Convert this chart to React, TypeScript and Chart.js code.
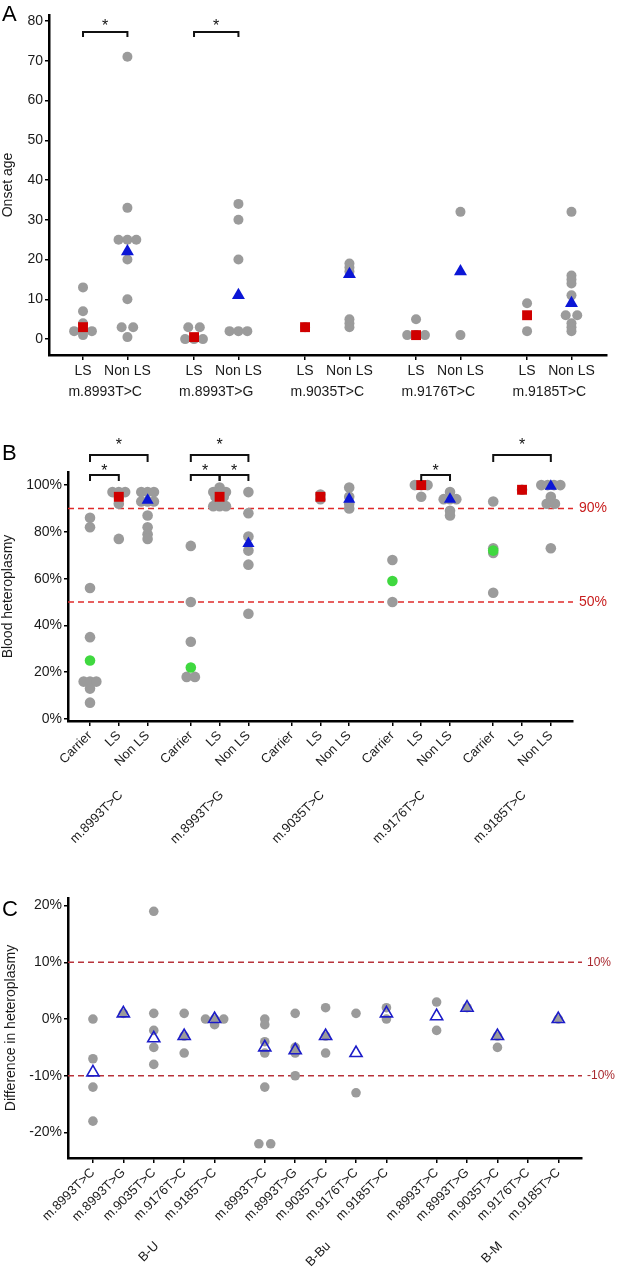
import React, { useEffect, useRef } from 'react';
import { Chart, registerables } from 'chart.js';
Chart.register(...registerables);

const FONT = '"Liberation Sans", Arial, Helvetica, sans-serif';

// ---------- DATA ----------
const mutations = ['m.8993T>C', 'm.8993T>G', 'm.9035T>C', 'm.9176T>C', 'm.9185T>C'];

// Panel A: onset age
const onsetGroups = ['LS', 'Non LS'];
const onsetLS = [[13, 7, 4, 2, 2, 2, 1], [3, 3, 0, 0, 0], [3], [5, 1, 1, 1], [9, 2]];
const onsetNonLS = [[71, 33, 25, 25, 25, 20, 10, 3, 3, 0.5], [34, 30, 20, 2, 2, 2], [19, 18, 17, 5, 4, 3], [32, 1], [32, 16, 15, 14, 11, 6, 6, 4, 3, 2]];
const onsetLSMean = [3, 0.5, 3, 1, 6];
const onsetNonLSMean = [22, 11, 16.3, 17, 9];
const onsetTicks = [0, 10, 20, 30, 40, 50, 60, 70, 80];
const onsetSig = [{ group: 0, a: 0, b: 1, level: 0 }, { group: 1, a: 0, b: 1, level: 0 }];

// Panel B: blood heteroplasmy
const bloodGroups = ['Carrier', 'LS', 'Non LS'];
const bloodCarrier = [[86, 82, 56, 35, 16, 16, 16, 13, 7], [74, 50, 33, 18, 18], [], [68, 50], [93, 73, 71, 54]];
const bloodLS = [[97, 97, 97, 95, 92, 77], [99, 97, 97, 97, 95, 95, 91, 91, 91], [96, 94], [100, 100, 100, 95], [98]];
const bloodNonLS = [[97, 97, 97, 93, 93, 93, 87, 82, 79, 77], [97, 88, 78, 72, 66, 45], [99, 95, 92, 90], [97, 94, 94, 94, 89, 87], [100, 100, 100, 100, 95, 92, 92, 73]];
const bloodCarrierMean = [25, 22, null, 59, 72];
const bloodLSMean = [95, 95, 95, 100, 98];
const bloodNonLSMean = [93.5, 75, 94, 94, 99.5];
const bloodTicks = [0, 20, 40, 60, 80, 100];
const bloodRefLines = [90, 50];
const bloodSig = [
  { group: 0, a: 0, b: 1, level: 0 }, { group: 0, a: 0, b: 2, level: 1 },
  { group: 1, a: 0, b: 1, level: 0 }, { group: 1, a: 1, b: 2, level: 0 }, { group: 1, a: 0, b: 2, level: 1 },
  { group: 3, a: 1, b: 2, level: 0 }, { group: 4, a: 0, b: 2, level: 1 },
];

// Panel C: difference in heteroplasmy
const tissueGroups = ['B-U', 'B-Bu', 'B-M'];
const diffValues = [
  [[0, -7, -12, -18], [1], [19, 1, -2, -5, -8], [1, -3, -6], [0, 0, 0, -1]],
  [[0, -1, -4, -6, -12, -22, -22], [1, -5, -6, -10], [2, -3, -6], [1, -13], [2, 0]],
  [[3, -2], [2], [-3, -5], [], [0]],
];
const diffMeans = [
  [-9.4, 1, -3.4, -3, 0],
  [-5, -5.5, -3, -6, 1],
  [0.5, 2, -3, null, 0],
];
const diffTicks = [-20, -10, 0, 10, 20];
const diffRefLines = [10, -10];

// ---------- LAYOUT HELPERS ----------
const posA = (g: number, k: number) => g * 2.5 + k;
const posB = (g: number, k: number) => g * 3.5 + k;
const posC = (g: number, m: number) => g * 5.65 + m;

function swarm(values: number[], center: number, step: number) {
  const counts = new Map<number, number>();
  values.forEach((v) => counts.set(v, (counts.get(v) || 0) + 1));
  const seen = new Map<number, number>();
  return values.map((v) => {
    const n = counts.get(v)!;
    const i = seen.get(v) || 0;
    seen.set(v, i + 1);
    const s = n === 2 ? step * 1.3 : step;
    return { x: center + (i - (n - 1) / 2) * s, y: v };
  });
}

const GREY = '#9b9b9b';
const RED = '#d00000';
const BLUE = '#0b16d6';
const GREEN = '#3fd83f';
const TEXT = '#1a1a1a';

function xAxis(ticks: number[], labels: string[], min: number, max: number, height: number, size: number, rot: number, pad: number) {
  return {
    type: 'linear', min, max,
    border: { display: true, color: '#000', width: 2.5 },
    grid: { display: true, drawOnChartArea: false, drawTicks: true, tickLength: 5, color: '#000', lineWidth: 1.5 },
    afterBuildTicks: (s: any) => { s.ticks = ticks.map((v) => ({ value: v })); },
    afterFit: (s: any) => { s.height = height; },
    ticks: {
      autoSkip: false, minRotation: rot, maxRotation: rot, padding: pad, color: TEXT,
      font: { family: FONT, size },
      callback: (_v: any, i: number) => labels[i],
    },
  };
}

function yAxis(ticks: number[], min: number, max: number, width: number, title: string, fmt: (v: number) => string, titlePad: number) {
  return {
    type: 'linear', min, max,
    border: { display: true, color: '#000', width: 2.5 },
    grid: { display: true, drawOnChartArea: false, drawTicks: true, tickLength: 4, color: '#000', lineWidth: 1.5 },
    afterBuildTicks: (s: any) => { s.ticks = ticks.map((v) => ({ value: v })); },
    afterFit: (s: any) => { s.width = width; },
    ticks: { padding: 2, color: TEXT, font: { family: FONT, size: 14 }, callback: (v: any) => fmt(Number(v)) },
    title: { display: true, text: title, color: TEXT, font: { family: FONT, size: 14 }, padding: { top: titlePad, bottom: 0 } },
  };
}

function drawBrackets(ctx: any, x: any, top: number, list: any[], pos: (g: number, k: number) => number, levels: { line: number; drop: number; star: number }[]) {
  ctx.save();
  ctx.strokeStyle = '#111';
  ctx.lineWidth = 2;
  ctx.fillStyle = '#111';
  ctx.font = `16px ${FONT}`;
  ctx.textAlign = 'center';
  ctx.textBaseline = 'alphabetic';
  list.forEach((b) => {
    const L = levels[b.level];
    const x1 = x.getPixelForValue(pos(b.group, b.a));
    const x2 = x.getPixelForValue(pos(b.group, b.b));
    const yl = top + L.line;
    ctx.beginPath();
    ctx.moveTo(x1, yl + L.drop);
    ctx.lineTo(x1, yl);
    ctx.lineTo(x2, yl);
    ctx.lineTo(x2, yl + L.drop);
    ctx.stroke();
    ctx.fillText('*', (x1 + x2) / 2, yl + L.star);
  });
  ctx.restore();
}

function drawRefLines(ctx: any, area: any, y: any, values: number[], color: string, width: number) {
  ctx.save();
  ctx.strokeStyle = color;
  ctx.lineWidth = width;
  ctx.setLineDash([6, 4]);
  values.forEach((v) => {
    const py = y.getPixelForValue(v);
    ctx.beginPath();
    ctx.moveTo(area.left, py);
    ctx.lineTo(area.right, py);
    ctx.stroke();
  });
  ctx.restore();
}

function drawRefLabels(ctx: any, x0: number, y: any, values: number[], color: string, size: number) {
  ctx.save();
  ctx.fillStyle = color;
  ctx.font = `${size}px ${FONT}`;
  ctx.textAlign = 'left';
  ctx.textBaseline = 'middle';
  values.forEach((v) => ctx.fillText(`${v}%`, x0, y.getPixelForValue(v)));
  ctx.restore();
}

function drawLetter(ctx: any, letter: string, x: number, y: number) {
  ctx.save();
  ctx.fillStyle = '#000';
  ctx.font = `22px ${FONT}`;
  ctx.textAlign = 'left';
  ctx.textBaseline = 'alphabetic';
  ctx.fillText(letter, x, y);
  ctx.restore();
}

function drawRotated(ctx: any, text: string, x: number, y: number, size: number) {
  ctx.save();
  ctx.translate(x, y);
  ctx.rotate(-Math.PI / 4);
  ctx.fillStyle = TEXT;
  ctx.font = `${size}px ${FONT}`;
  ctx.textAlign = 'right';
  ctx.textBaseline = 'middle';
  ctx.fillText(text, 0, 0);
  ctx.restore();
}

const baseOptions = {
  responsive: false,
  animation: false,
  devicePixelRatio: 1,
  events: [],
  plugins: { legend: { display: false }, tooltip: { enabled: false } },
};

// ---------- PANEL CONFIGS ----------
function configA() {
  const grey: any[] = [];
  mutations.forEach((_m, g) => {
    grey.push(...swarm(onsetLS[g], posA(g, 0), 0.2));
    grey.push(...swarm(onsetNonLS[g], posA(g, 1), 0.2));
  });
  const lsMean = onsetLSMean.map((v, g) => ({ x: posA(g, 0), y: v }));
  const nonMean = onsetNonLSMean.map((v, g) => ({ x: posA(g, 1), y: v }));
  const tickPos: number[] = [];
  const tickLab: string[] = [];
  mutations.forEach((_m, g) => onsetGroups.forEach((lab, k) => { tickPos.push(posA(g, k)); tickLab.push(lab); }));
  const plugin = {
    id: 'annotA',
    afterDraw(chart: any) {
      const { ctx, chartArea, scales } = chart;
      drawLetter(ctx, 'A', 2, 21);
      ctx.save();
      ctx.fillStyle = TEXT;
      ctx.font = `14px ${FONT}`;
      ctx.textAlign = 'center';
      ctx.textBaseline = 'middle';
      mutations.forEach((m, g) => {
        const cx = (scales.x.getPixelForValue(posA(g, 0)) + scales.x.getPixelForValue(posA(g, 1))) / 2;
        ctx.fillText(m, cx, chartArea.bottom + 37);
      });
      ctx.restore();
      drawBrackets(ctx, scales.x, chartArea.top, onsetSig, posA, [{ line: 17, drop: 5, star: -1 }]);
    },
  };
  return {
    type: 'scatter',
    data: {
      datasets: [
        { data: lsMean, pointStyle: 'rect', pointRadius: 7, backgroundColor: RED, borderWidth: 0, order: 0 },
        { data: nonMean, pointStyle: 'triangle', pointRadius: 7.5, backgroundColor: BLUE, borderWidth: 0, order: 0 },
        { data: grey, pointStyle: 'circle', pointRadius: 5, backgroundColor: GREY, borderWidth: 0, order: 1 },
      ],
    },
    options: {
      ...baseOptions,
      layout: { padding: { top: 15, right: 11, left: 0, bottom: 0 } },
      scales: {
        x: xAxis(tickPos, tickLab, -0.766, 11.8, 45, 14, 0, 3),
        y: yAxis(onsetTicks, -4, 81.5, 49, 'Onset age', (v) => String(v), 0),
      },
    },
    plugins: [plugin],
  };
}

function configB() {
  const grey: any[] = [];
  mutations.forEach((_m, g) => {
    grey.push(...swarm(bloodCarrier[g], posB(g, 0), 0.22));
    grey.push(...swarm(bloodLS[g], posB(g, 1), 0.22));
    grey.push(...swarm(bloodNonLS[g], posB(g, 2), 0.22));
  });
  const carMean = bloodCarrierMean.map((v, g) => (v == null ? null : { x: posB(g, 0), y: v })).filter(Boolean);
  const lsMean = bloodLSMean.map((v, g) => ({ x: posB(g, 1), y: v }));
  const nonMean = bloodNonLSMean.map((v, g) => ({ x: posB(g, 2), y: v }));
  const tickPos: number[] = [];
  const tickLab: string[] = [];
  mutations.forEach((_m, g) => bloodGroups.forEach((lab, k) => { tickPos.push(posB(g, k)); tickLab.push(lab); }));
  const plugin = {
    id: 'annotB',
    beforeDatasetsDraw(chart: any) {
      drawRefLines(chart.ctx, chart.chartArea, chart.scales.y, bloodRefLines, '#e02a2a', 1.5);
    },
    afterDraw(chart: any) {
      const { ctx, chartArea, scales } = chart;
      drawLetter(ctx, 'B', 2, 40);
      drawRefLabels(ctx, chartArea.right + 6, scales.y, bloodRefLines, '#c81e1e', 14);
      mutations.forEach((m, g) => drawRotated(ctx, m, scales.x.getPixelForValue(posB(g, 1)) + 2, chartArea.bottom + 72, 13));
      drawBrackets(ctx, scales.x, chartArea.top, bloodSig, posB, [
        { line: 3, drop: 6, star: 1 },
        { line: -17, drop: 7, star: -5 },
      ]);
    },
  };
  return {
    type: 'scatter',
    data: {
      datasets: [
        { data: carMean, pointStyle: 'circle', pointRadius: 5.3, backgroundColor: GREEN, borderWidth: 0, order: 0 },
        { data: lsMean, pointStyle: 'rect', pointRadius: 7, backgroundColor: RED, borderWidth: 0, order: 0 },
        { data: nonMean, pointStyle: 'triangle', pointRadius: 7, backgroundColor: BLUE, borderWidth: 0, order: 0 },
        { data: grey, pointStyle: 'circle', pointRadius: 5.3, backgroundColor: GREY, borderWidth: 0, order: 1 },
      ],
    },
    options: {
      ...baseOptions,
      layout: { padding: { top: 52, right: 45, left: 0, bottom: 0 } },
      scales: {
        x: xAxis(tickPos, tickLab, -0.764, 16.77, 139, 13, 45, 2),
        y: yAxis(bloodTicks, -0.85, 105.6, 68, 'Blood heteroplasmy', (v) => `${v}%`, 0),
      },
    },
    plugins: [plugin],
  };
}

function configC() {
  const grey: any[] = [];
  const means: any[] = [];
  const tickPos: number[] = [];
  const tickLab: string[] = [];
  tissueGroups.forEach((_t, g) => {
    mutations.forEach((m, k) => {
      grey.push(...swarm(diffValues[g][k], posC(g, k), 0.3));
      const mv = diffMeans[g][k];
      if (mv != null) means.push({ x: posC(g, k), y: mv });
      tickPos.push(posC(g, k));
      tickLab.push(m);
    });
  });
  const plugin = {
    id: 'annotC',
    beforeDatasetsDraw(chart: any) {
      drawRefLines(chart.ctx, chart.chartArea, chart.scales.y, diffRefLines, '#b8323a', 1.5);
    },
    afterDraw(chart: any) {
      const { ctx, chartArea, scales } = chart;
      drawLetter(ctx, 'C', 2, 36);
      drawRefLabels(ctx, chartArea.right + 5, scales.y, diffRefLines, '#a8282e', 12);
      tissueGroups.forEach((t, g) => drawRotated(ctx, t, scales.x.getPixelForValue(posC(g, 2)) + 3, chartArea.bottom + 86, 13));
    },
  };
  return {
    type: 'scatter',
    data: {
      datasets: [
        { data: means, pointStyle: 'triangle', pointRadius: 7, backgroundColor: 'rgba(0,0,0,0)', borderColor: '#1c1cc8', borderWidth: 1.6, order: 0 },
        { data: grey, pointStyle: 'circle', pointRadius: 4.8, backgroundColor: GREY, borderWidth: 0, order: 1 },
      ],
    },
    options: {
      ...baseOptions,
      layout: { padding: { top: 18, right: 36, left: 0, bottom: 0 } },
      scales: {
        x: xAxis(tickPos, tickLab, -0.82, 16.08, 115, 13, 45, 2),
        y: yAxis(diffTicks, -24.5, 21.34, 68, 'Difference in heteroplasmy', (v) => `${v}%`, 3),
      },
    },
    plugins: [plugin],
  };
}

function Panel({ top, height, make }: { top: number; height: number; make: () => any }) {
  const ref = useRef<HTMLCanvasElement>(null);
  useEffect(() => {
    const chart = new Chart(ref.current as HTMLCanvasElement, make());
    return () => chart.destroy();
  }, []);
  return (
    <canvas
      ref={ref}
      width={618}
      height={height}
      style={{ position: 'absolute', left: 0, top, width: 618, height, display: 'block' }}
    />
  );
}

export default function App() {
  return (
    <div style={{ position: 'absolute', left: 0, top: 0, width: 618, height: 1273, background: '#fff', overflow: 'hidden' }}>
      <Panel top={0} height={400} make={configA} />
      <Panel top={420} height={440} make={configB} />
      <Panel top={880} height={393} make={configC} />
    </div>
  );
}
